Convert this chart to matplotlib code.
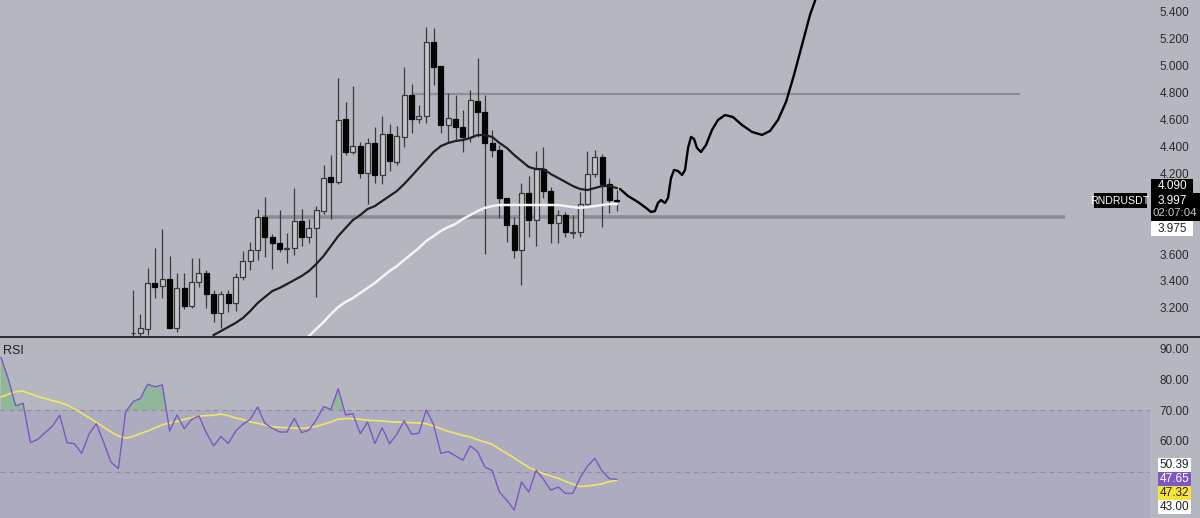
import numpy as np
import matplotlib
matplotlib.use("Agg")
import matplotlib.pyplot as plt
from matplotlib.patches import Rectangle
from matplotlib.lines import Line2D
from matplotlib.ticker import FuncFormatter, FixedLocator

plt.rcParams['font.family'] = ['Liberation Sans', 'DejaVu Sans']

# ---------------- data ----------------
opens = [3.010, 3.013, 3.043, 3.383, 3.363, 3.413, 3.053, 3.346, 3.214, 3.390,
         3.457, 3.301, 3.160, 3.301, 3.238, 3.427, 3.551, 3.630, 3.874, 3.729,
         3.685, 3.636, 3.643, 3.848, 3.729, 3.792, 3.923, 4.171, 4.138, 4.602,
         4.357, 4.406, 4.200, 4.428, 4.188, 4.493, 4.287, 4.473, 4.783, 4.604,
         4.629, 5.177, 4.998, 4.560, 4.604, 4.547, 4.473, 4.741, 4.654, 4.424,
         4.374, 4.015, 3.816, 3.630, 4.057, 3.854, 4.230, 4.069, 3.829, 3.891,
         3.760, 3.762, 3.972, 4.196, 4.320, 4.121, 4.002]
highs = [3.333, 3.155, 3.499, 3.643, 3.786, 3.586, 3.457, 3.457, 3.573, 3.568,
         3.482, 3.333, 3.326, 3.333, 3.462, 3.623, 3.692, 3.935, 4.022, 3.747,
         3.928, 3.759, 4.089, 3.933, 3.859, 3.958, 4.262, 4.337, 4.907, 4.733,
         4.850, 4.436, 4.461, 4.547, 4.627, 4.565, 4.552, 4.989, 4.862, 4.708,
         5.286, 5.279, 5.000, 4.796, 4.783, 4.671, 4.820, 5.060, 4.783, 4.523,
         4.411, 4.015, 3.878, 4.131, 4.181, 4.366, 4.399, 4.101, 3.928, 3.915,
         3.891, 4.064, 4.369, 4.374, 4.344, 4.163, 4.077]
lows = [2.980, 2.990, 3.000, 3.276, 3.274, 3.048, 3.019, 3.189, 3.200, 3.358,
        3.202, 3.093, 3.050, 3.167, 3.179, 3.407, 3.482, 3.556, 3.581, 3.487,
        3.618, 3.532, 3.593, 3.660, 3.685, 3.283, 3.900, 3.859, 4.120, 4.337,
        4.344, 4.163, 3.970, 4.126, 4.120, 4.220, 4.262, 4.398, 4.503, 4.572,
        4.572, 4.857, 4.498, 4.436, 4.448, 4.361, 4.436, 4.473, 3.600, 4.320,
        3.866, 3.692, 3.569, 3.370, 3.730, 3.660, 4.015, 3.680, 3.685, 3.729,
        3.717, 3.725, 3.952, 4.176, 3.804, 3.908, 3.922]
closes = [3.015, 3.050, 3.383, 3.358, 3.413, 3.053, 3.346, 3.216, 3.390, 3.457,
          3.301, 3.160, 3.301, 3.238, 3.427, 3.551, 3.630, 3.874, 3.729, 3.685,
          3.636, 3.644, 3.848, 3.729, 3.792, 3.928, 4.168, 4.138, 4.597, 4.357,
          4.406, 4.200, 4.428, 4.188, 4.493, 4.292, 4.478, 4.783, 4.604, 4.627,
          5.177, 4.993, 4.560, 4.610, 4.547, 4.473, 4.746, 4.654, 4.424, 4.374,
          4.015, 3.816, 3.630, 4.057, 3.854, 4.230, 4.069, 3.829, 3.891, 3.762,
          3.767, 3.972, 4.196, 4.320, 4.121, 4.002, 3.997]

ma_black_start = 11
ma_black = [2.998, 3.028, 3.058, 3.088, 3.125, 3.177, 3.236, 3.281, 3.325, 3.348,
            3.377, 3.407, 3.437, 3.474, 3.526, 3.586, 3.660, 3.734, 3.794, 3.853,
            3.890, 3.935, 3.957, 3.995, 4.032, 4.069, 4.121, 4.180, 4.240, 4.299,
            4.359, 4.403, 4.426, 4.441, 4.448, 4.463, 4.485, 4.485, 4.471, 4.426,
            4.389, 4.337, 4.292, 4.247, 4.232, 4.232, 4.195, 4.166, 4.136, 4.106,
            4.084, 4.076, 4.091, 4.106, 4.106, 4.091]
ma_white_start = 24
ma_white = [2.991, 3.043, 3.095, 3.154, 3.206, 3.244, 3.273, 3.311, 3.348, 3.385,
            3.430, 3.474, 3.511, 3.556, 3.601, 3.645, 3.697, 3.734, 3.772, 3.801,
            3.824, 3.861, 3.890, 3.920, 3.943, 3.957, 3.965, 3.965, 3.965, 3.965,
            3.965, 3.965, 3.965, 3.965, 3.965, 3.957, 3.950, 3.943, 3.950, 3.957,
            3.965, 3.972, 3.972]

# hand-drawn projection (candle index, price)
proj_idx = [66.44, 67.53, 68.89, 69.99, 70.67, 71.21, 71.62, 72.03, 72.58, 72.99,
            73.40, 73.81, 74.35, 74.90, 75.31, 75.72, 76.13, 76.54, 76.94, 77.49,
            78.17, 78.99, 79.81, 80.76, 81.85, 83.08, 84.45, 85.81, 86.90, 87.99,
            89.09, 90.18, 91.27, 92.36, 93.18]
proj_price = [4.084, 4.032, 3.987, 3.943, 3.913, 3.920, 3.980, 4.002, 3.980, 4.017,
              4.166, 4.225, 4.218, 4.188, 4.225, 4.389, 4.471, 4.456, 4.389, 4.359,
              4.411, 4.523, 4.597, 4.634, 4.619, 4.560, 4.508, 4.486, 4.515, 4.597,
              4.731, 4.932, 5.155, 5.378, 5.504]

# horizontal levels: (price, start index, end index)
level_prices = [4.790, 3.876]
level_start = [38.2, 17.6]
level_end = [121.0, 127.1]

rsi_start = -18
rsi = [86.9, 79.9, 71.3, 72.2, 59.5, 60.5, 62.7, 64.8, 68.3, 59.5,
       59.1, 56.0, 62.2, 65.6, 59.5, 53.2, 51.1, 69.4, 72.7, 73.7,
       78.3, 77.5, 78.1, 63.2, 68.4, 64.0, 67.0, 68.1, 62.7, 58.4,
       61.4, 59.2, 63.2, 65.4, 67.0, 71.0, 65.7, 64.1, 62.9, 62.9,
       67.3, 62.7, 63.5, 66.8, 71.1, 70.2, 76.9, 68.4, 68.8, 62.4,
       66.1, 59.2, 64.3, 59.1, 62.2, 66.5, 62.2, 62.5, 70.0, 65.4,
       56.0, 56.6, 55.2, 53.8, 58.4, 56.6, 51.6, 50.5, 43.5, 40.9,
       37.7, 46.8, 43.5, 50.6, 47.6, 44.1, 45.2, 43.1, 43.1, 48.2,
       51.9, 54.4, 50.3, 47.8, 47.65]
rsi_ma = [74.2, 75.1, 75.9, 76.1, 75.2, 74.4, 73.7, 73.0, 72.5, 71.6,
          70.4, 69.0, 67.5, 66.0, 64.5, 62.9, 61.6, 60.9, 61.5, 62.4,
          63.2, 64.2, 65.2, 65.8, 66.3, 67.0, 67.5, 68.0, 68.2, 68.3,
          68.7, 68.2, 67.4, 66.9, 66.2, 65.7, 65.2, 64.6, 64.4, 64.3,
          64.2, 64.1, 64.3, 64.7, 65.4, 66.1, 67.0, 67.2, 67.2, 67.0,
          66.7, 66.6, 66.5, 66.2, 66.1, 66.0, 65.9, 65.8, 65.6, 64.8,
          64.0, 63.1, 62.5, 61.8, 61.3, 60.4, 59.7, 58.9, 57.4, 56.0,
          54.5, 53.0, 51.5, 50.4, 49.5, 48.7, 48.0, 47.0, 46.1, 45.3,
          45.5, 45.8, 46.2, 46.9, 47.3]

price_ticks = [3.2, 3.4, 3.6, 4.2, 4.4, 4.6, 4.8, 5.0, 5.2, 5.4]
rsi_ticks = [60, 70, 80, 90]
symbol = "RNDRUSDT"
price_tags = ["4.090", "3.997", "02:07:04", "3.975"]
rsi_tags = ["50.39", "47.65", "47.32", "43.00"]

# ---------------- style ----------------
BG = "#b4b7c0"
BAND = "#adabbf"
W, H = 1200, 518

fig = plt.figure(figsize=(W / 100, H / 100), dpi=100, facecolor=BG)
plot_w = 1150 / W
ax = fig.add_axes([0, 182 / H, plot_w, 336 / H])
axr = fig.add_axes([0, 0, plot_w, 181 / H])

def xpix_to_idx(xp):
    return (xp - 133) / 7.33

for a in (ax, axr):
    a.set_facecolor(BG)
    for s in a.spines.values():
        s.set_visible(False)
    a.set_xlim(xpix_to_idx(0), xpix_to_idx(1150))
    a.set_xticks([])
    a.yaxis.tick_right()
    a.tick_params(axis="y", length=0, pad=7, labelsize=8.5, labelcolor="#2a2a2a")

ax.set_ylim(2.991, 5.489)
ax.yaxis.set_major_locator(FixedLocator(price_ticks))
ax.yaxis.set_major_formatter(FuncFormatter(lambda v, p: f"{v:.3f}"))
axr.set_ylim(35.16, 93.55)
axr.yaxis.set_major_locator(FixedLocator(rsi_ticks))
axr.yaxis.set_major_formatter(FuncFormatter(lambda v, p: f"{v:.2f}"))

# ---------------- price panel ----------------
o = np.array(opens); h = np.array(highs); l = np.array(lows); c = np.array(closes)
idx = np.arange(len(o))
up = c >= o

for p, s, e, lw, col in zip(level_prices, level_start, level_end, [1.6, 2.6],
                            ["#8b8e97", "#8a8d96"]):
    ax.hlines(p, s, e, colors=col, lw=lw, zorder=1)

ax.vlines(idx, l, h, colors="#3a3a3a", lw=0.9, zorder=2)
body_bot = np.minimum(o, c)
body_h = np.maximum(np.abs(c - o), 0.007)
ax.bar(idx[up], body_h[up], bottom=body_bot[up], width=0.68,
       color="#c3c5cb", edgecolor="#3a3a3a", linewidth=0.9, zorder=3)
ax.bar(idx[~up], body_h[~up], bottom=body_bot[~up], width=0.68,
       color="#050505", edgecolor="#050505", linewidth=0.9, zorder=3)

bx = np.arange(ma_black_start, ma_black_start + len(ma_black))
ax.plot(bx, ma_black, color="#202020", lw=1.6, zorder=4)
wx = np.arange(ma_white_start, ma_white_start + len(ma_white))
ax.plot(wx, ma_white, color="#f4f4f4", lw=1.8, zorder=4)

ax.plot(proj_idx, proj_price, color="#000000", lw=1.7, zorder=4,
        solid_capstyle="round", solid_joinstyle="round")

# ---------------- RSI panel ----------------
rx = np.arange(rsi_start, rsi_start + len(rsi))
r = np.array(rsi)
axr.axhspan(30, 70, color=BAND, zorder=0, lw=0)
axr.axhline(70, color="#8e8ba6", lw=0.8, ls=(0, (4, 4)), zorder=1)
axr.axhline(50, color="#8e8ba6", lw=0.8, ls=(0, (4, 4)), zorder=1)
axr.fill_between(rx, r, 70, where=r > 70, interpolate=True,
                 color="#66b86a", alpha=0.45, lw=0, zorder=2)
axr.plot(rx, rsi_ma, color="#f3e564", lw=1.2, zorder=3)
axr.plot(rx, r, color="#7e57c2", lw=1.0, zorder=4)
axr.text(3 / 1150, 1 - 14 / 181, "RSI", transform=axr.transAxes, fontsize=9,
         color="#1e1e1e", va="center", ha="left")

# ---------------- separators & tags ----------------
fig.add_artist(Line2D([0, 1], [1 - 336.5 / H] * 2, transform=fig.transFigure,
                      color="#151515", lw=1.2))

def box(x, y, w, hgt, color):
    fig.add_artist(Rectangle((x / W, 1 - (y + hgt) / H), w / W, hgt / H,
                             transform=fig.transFigure, facecolor=color,
                             edgecolor="none", zorder=10))

def tag(x, y, s, color, size=8.5):
    t = fig.text(x / W, 1 - y / H, s, color=color, fontsize=size, ha="center",
                 va="center")
    t.set_zorder(20)
    return t

box(1094, 193, 53, 15, "#000000")
tag(1120, 200.5, symbol, "#ffffff", 7.6)
box(1151, 179, 42, 14, "#000000")
tag(1172, 186, price_tags[0], "#ffffff")
box(1151, 193, 49, 28, "#000000")
tag(1172, 200.5, price_tags[1], "#ffffff")
tag(1175, 213.5, price_tags[2], "#c9c9c9", 8.2)
box(1151, 221, 42, 15, "#ffffff")
tag(1172, 228.5, price_tags[3], "#222222")

rsi_cols = ["#ffffff", "#7e57c2", "#f7e33b", "#ffffff"]
rsi_txt = ["#222222", "#ffffff", "#222222", "#222222"]
for i, (s, bc, tc) in enumerate(zip(rsi_tags, rsi_cols, rsi_txt)):
    y0 = 458 + i * 14
    box(1158, y0, 33, 14, bc)
    tag(1174.5, y0 + 7, s, tc, 8.5)

fig.savefig("out.png", dpi=100, facecolor=BG)
